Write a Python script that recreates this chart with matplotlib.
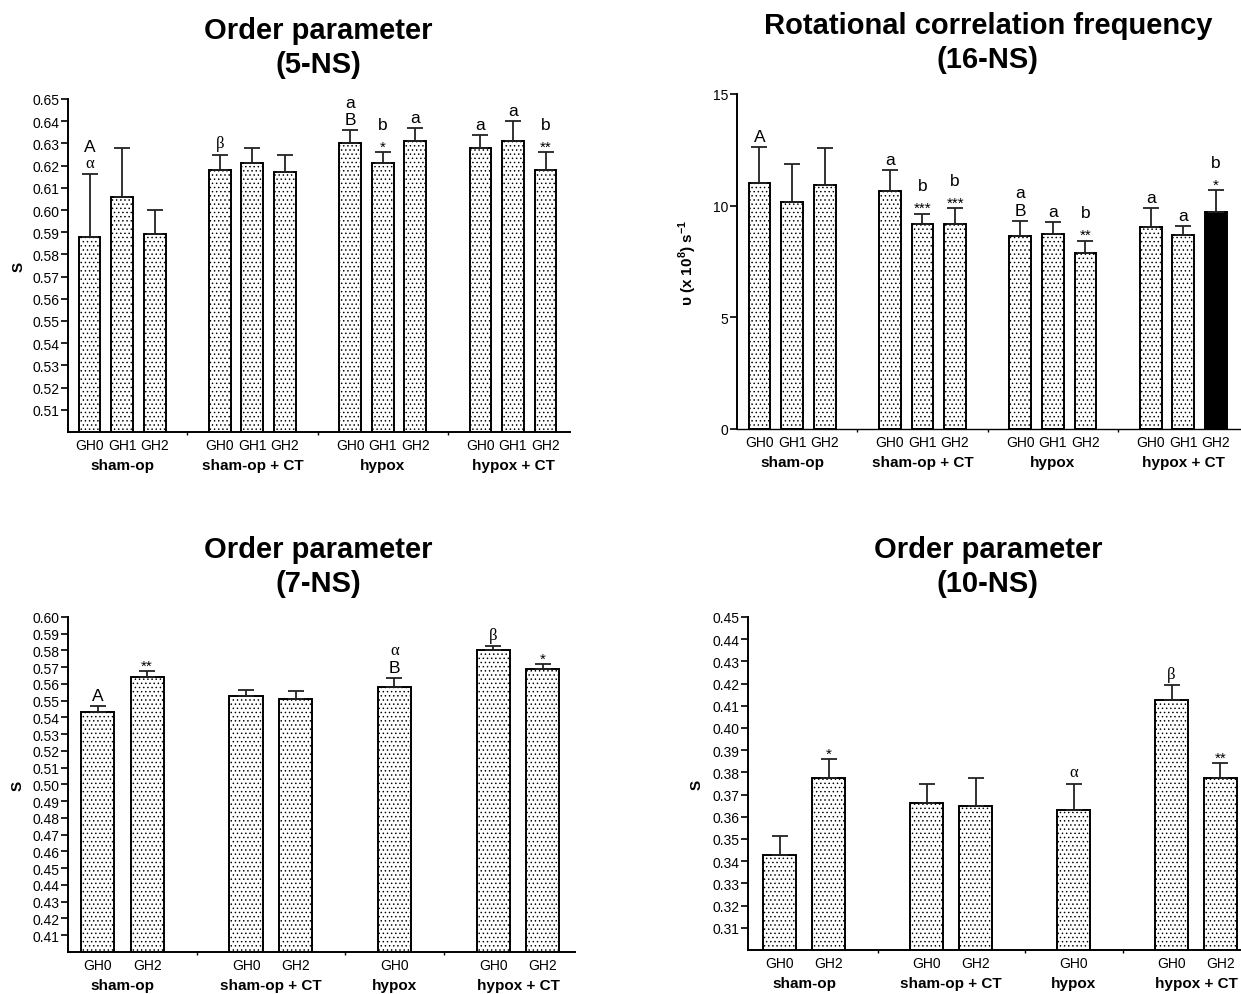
import matplotlib
matplotlib.use("Agg")
import matplotlib.pyplot as plt
import numpy as np

plt.rcParams['font.family'] = ['Liberation Sans', 'DejaVu Sans']
plt.rcParams['mathtext.fontset'] = 'custom'
plt.rcParams['mathtext.bf'] = 'Liberation Sans:bold'
plt.rcParams['mathtext.rm'] = 'Liberation Sans:bold'
plt.rcParams['hatch.linewidth'] = 0.55
plt.rcParams['hatch.color'] = '#333333'

# ---------------- data ----------------
groups = ['sham-op', 'sham-op + CT', 'hypox', 'hypox + CT']

# 5-NS order parameter (three GH levels per group)
ns5_labels = ['GH0', 'GH1', 'GH2'] * 4
ns5_group = [0, 0, 0, 1, 1, 1, 2, 2, 2, 3, 3, 3]
ns5_mean = [0.588, 0.606, 0.589, 0.618, 0.621, 0.617, 0.630, 0.621, 0.631, 0.628, 0.631, 0.618]
ns5_err = [0.028, 0.022, 0.011, 0.007, 0.007, 0.008, 0.006, 0.005, 0.006, 0.006, 0.009, 0.008]
ns5_ann = {0: ['α', 'A'], 3: ['β'], 6: ['B', 'a'], 7: ['*', 'b'], 8: ['a'],
           9: ['a'], 10: ['a'], 11: ['**', 'b']}

# 16-NS rotational correlation frequency
ns16_labels = ['GH0', 'GH1', 'GH2'] * 4
ns16_group = [0, 0, 0, 1, 1, 1, 2, 2, 2, 3, 3, 3]
ns16_mean = [11.0, 10.18, 10.94, 10.67, 9.18, 9.17, 8.64, 8.72, 7.87, 9.04, 8.68, 9.73]
ns16_err = [1.63, 1.68, 1.64, 0.94, 0.46, 0.73, 0.69, 0.57, 0.57, 0.86, 0.40, 0.95]
ns16_ann = {0: ['A'], 3: ['a'], 4: ['***', 'b'], 5: ['***', 'b'], 6: ['B', 'a'],
            7: ['a'], 8: ['**', 'b'], 9: ['a'], 10: ['a'], 11: ['*', 'b']}
ns16_black = [11]

# 7-NS order parameter
ns7_labels = ['GH0', 'GH2', 'GH0', 'GH2', 'GH0', 'GH0', 'GH2']
ns7_group = [0, 0, 1, 1, 2, 3, 3]
ns7_mean = [0.543, 0.564, 0.553, 0.551, 0.558, 0.580, 0.569]
ns7_err = [0.0037, 0.0035, 0.0035, 0.0050, 0.0054, 0.0024, 0.0030]
ns7_ann = {0: ['A'], 1: ['**'], 4: ['B', 'α'], 5: ['β'], 6: ['*']}

# 10-NS order parameter
ns10_labels = ['GH0', 'GH2', 'GH0', 'GH2', 'GH0', 'GH0', 'GH2']
ns10_group = [0, 0, 1, 1, 2, 3, 3]
ns10_mean = [0.3429, 0.3773, 0.3664, 0.3649, 0.3632, 0.4126, 0.3777]
ns10_err = [0.0084, 0.0086, 0.0086, 0.0124, 0.0118, 0.0067, 0.0065]
ns10_ann = {1: ['*'], 4: ['α'], 5: ['β'], 6: ['**']}

# ---------------- layout ----------------
W, H = 1241, 995
fig = plt.figure(figsize=(W / 100, H / 100), dpi=100)


def rect(l, t, r, b):
    return [l / W, 1 - b / H, (r - l) / W, (b - t) / H]


def positions(group_idx, group_start):
    pos = []
    seen = {}
    for g in group_idx:
        k = seen.get(g, 0)
        pos.append(group_start[g] + k)
        seen[g] = k + 1
    return np.array(pos, dtype=float)


def panel(r, labels, gidx, gstart, mean, err, ann, ylim, yticks, ytl,
          xlim, ylabel, black=(), dotted_base=False):
    ax = fig.add_axes(r)
    x = positions(gidx, gstart)
    colors = ['black' if i in black else 'white' for i in range(len(mean))]
    bars = ax.bar(x, mean, width=0.67, color=colors, edgecolor='black',
                  linewidth=1.4, zorder=2)
    for i, b in enumerate(bars):
        if i not in black:
            b.set_hatch('....')
    ax.errorbar(x, mean, yerr=[np.zeros(len(err)), err], fmt='none',
                ecolor='#222222', elinewidth=1.3, capsize=6, capthick=1.3, zorder=3)
    ax.set_ylim(*ylim)
    ax.set_xlim(*xlim)
    ax.set_yticks(yticks)
    ax.set_yticklabels(ytl, fontsize=10)
    ax.set_xticks(x)
    ax.set_xticklabels(labels, fontsize=10)
    ax.tick_params(axis='x', length=0, pad=4)
    ax.tick_params(axis='y', length=5, width=1.2, pad=1)
    # tiny separators between groups
    seps = [(gstart[i] + gstart[i + 1] + (np.sum(np.array(gidx) == i) - 1)) / 2
            for i in range(len(gstart) - 1)]
    ax.set_xticks(seps, minor=True)
    ax.tick_params(axis='x', which='minor', length=2, width=1)
    for s in ['top', 'right']:
        ax.spines[s].set_visible(False)
    ax.spines['left'].set_linewidth(1.4)
    ax.spines['bottom'].set_linewidth(1.4)
    if dotted_base:
        ax.spines['bottom'].set_linestyle((0, (1, 1)))
        ax.spines['bottom'].set_linewidth(1.0)
    # group labels
    for gi, gname in enumerate(groups):
        members = x[np.array(gidx) == gi]
        ax.annotate(gname, xy=(members.mean(), 0), xycoords=('data', 'axes fraction'),
                    xytext=(0, -23.5), textcoords='offset points', ha='center', va='center',
                    fontsize=11, fontweight='bold')
    # annotations
    offs = [7.5, 20.0]
    for i, lines in ann.items():
        top = mean[i] + err[i]
        for j, t in enumerate(lines):
            if '*' in t:
                ax.annotate(t, xy=(x[i], top), xytext=(0, offs[j] - 3.5),
                            textcoords='offset points', ha='center', va='center',
                            fontsize=11, zorder=4)
            elif t in ('α', 'β'):
                ax.annotate(t, xy=(x[i], top), xytext=(0, offs[j] + 0.5),
                            textcoords='offset points', ha='center', va='center',
                            fontsize=12, family=['Liberation Serif', 'DejaVu Serif'], zorder=4)
            else:
                ax.annotate(t, xy=(x[i], top), xytext=(0, offs[j]),
                            textcoords='offset points', ha='center', va='center',
                            fontsize=12.5, zorder=4)
    ax.set_ylabel(ylabel, fontsize=11, fontweight='bold')
    return ax


t5 = np.round(np.arange(0.51, 0.6501, 0.01), 2)
ax1 = panel(rect(68, 100, 570, 433), ns5_labels, ns5_group, [0, 4, 8, 12],
            ns5_mean, ns5_err, ns5_ann, (0.50, 0.65), t5, ['%.2f' % v for v in t5],
            (-0.66, 14.75), 'S')
ax1.yaxis.set_label_coords(-0.085, 0.5)

t16 = [0, 5, 10, 15]
ax2 = panel(rect(737, 95, 1241, 430), ns16_labels, ns16_group, [0, 4, 8, 12],
            ns16_mean, ns16_err, ns16_ann, (0, 15), t16, [str(v) for v in t16],
            (-0.69, 14.77), r'υ (x 10$^{\mathbf{8}}$) s$^{\mathbf{-1}}$',
            black=ns16_black, dotted_base=True)
ax2.yaxis.set_label_coords(-0.075, 0.5)

t7 = np.round(np.arange(0.41, 0.6001, 0.01), 2)
ax3 = panel(rect(68, 618, 575, 953), ns7_labels, ns7_group, [0, 3, 6, 8],
            ns7_mean, ns7_err, ns7_ann, (0.40, 0.60), t7, ['%.2f' % v for v in t7],
            (-0.6, 9.65), 'S')
ax3.yaxis.set_label_coords(-0.085, 0.5)

t10 = np.round(np.arange(0.31, 0.4501, 0.01), 2)
ax4 = panel(rect(748, 618, 1267, 951), ns10_labels, ns10_group, [0, 3, 6, 8],
            ns10_mean, ns10_err, ns10_ann, (0.30, 0.45), t10, ['%.2f' % v for v in t10],
            (-0.65, 9.95), 'S')
ax4.yaxis.set_label_coords(-0.085, 0.5)

# titles
titles = [("Order parameter\n(5-NS)", 318, 48),
          ("Rotational correlation frequency\n(16-NS)", 988, 43),
          ("Order parameter\n(7-NS)", 318, 567),
          ("Order parameter\n(10-NS)", 988, 567)]
for txt, cx, cy in titles:
    fig.text(cx / W, 1 - cy / H, txt, ha='center', va='center', fontsize=21,
             fontweight='bold', linespacing=1.25)

fig.savefig('out.png', dpi=100)
